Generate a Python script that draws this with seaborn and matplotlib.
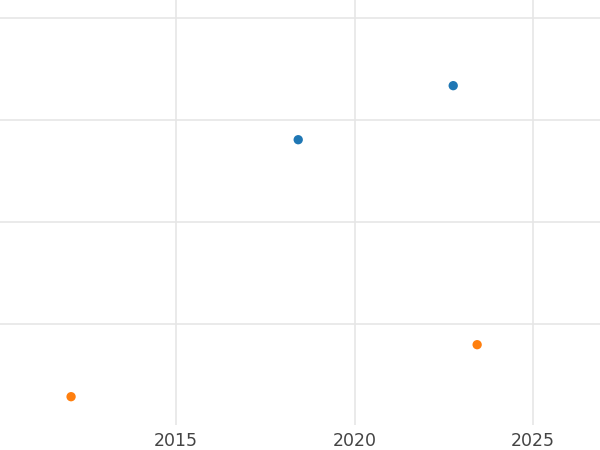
import matplotlib
matplotlib.use("Agg")
import matplotlib.pyplot as plt
import seaborn as sns
import pandas as pd

years = [2018.42, 2022.76, 2012.06, 2023.43]
values = [2.81, 3.34, 0.29, 0.80]
groups = ["a", "a", "b", "b"]

df = pd.DataFrame({"year": years, "value": values, "group": groups})

sns.set_style("white")
fig = plt.figure(figsize=(6, 4.5), dpi=100)
ax = fig.add_axes([0, 0.055, 1, 0.945])

sns.scatterplot(data=df, x="year", y="value", hue="group",
                palette=["#1f77b4", "#ff7f0e"], s=45, edgecolor="none",
                legend=False, ax=ax, zorder=3)

ax.set_xlim(2010.07, 2026.87)
ax.set_ylim(0.01, 4.18)
ax.set_xticks([2015, 2020, 2025])
ax.set_yticks([1, 2, 3, 4])
ax.set_yticklabels([])
ax.grid(True, color="#e6e6e6", linewidth=1.2)
ax.tick_params(axis="both", length=0, labelsize=12.5, labelcolor="#444444")
ax.tick_params(axis="x", pad=5)
ax.set_xlabel("")
ax.set_ylabel("")
for s in ax.spines.values():
    s.set_visible(False)

fig.savefig("out.png")
